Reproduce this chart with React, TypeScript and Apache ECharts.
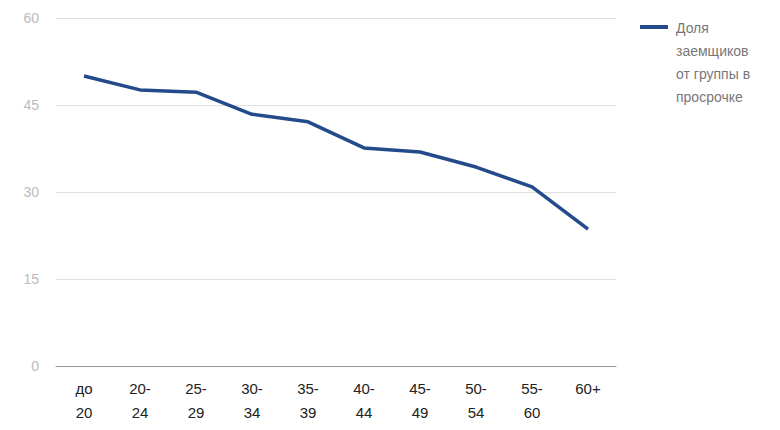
import React, { useEffect, useRef } from "react";
import * as echarts from "echarts";

const categories = ["до\n20", "20-\n24", "25-\n29", "30-\n34", "35-\n39", "40-\n44", "45-\n49", "50-\n54", "55-\n60", "60+"];
const shareValues = [50.0, 47.6, 47.2, 43.4, 42.1, 37.6, 36.9, 34.3, 30.9, 23.6];
const yTicks = { min: 0, max: 60, interval: 15 };
const legendLines = ["Доля", "заемщиков", "от группы в", "просрочке"];

const LINE_COLOR = "#234a8a";

export default function App() {
  const ref = useRef<HTMLDivElement>(null);
  useEffect(() => {
    document.body.style.margin = "0";
    const chart = echarts.init(ref.current!, null, { renderer: "svg" });
    chart.setOption({
      animation: false,
      textStyle: { fontFamily: "Liberation Sans, Arial, sans-serif" },
      grid: { left: 56, top: 18, width: 560, bottom: 64 },
      legend: { show: false },
      graphic: [
        {
          type: "line",
          shape: { x1: 640, y1: 27, x2: 668, y2: 27 },
          style: { stroke: LINE_COLOR, lineWidth: 4 },
        },
        {
          type: "text",
          x: 676,
          y: 16,
          style: {
            text: legendLines.join("\n"),
            fill: "#777",
            fontSize: 14,
            lineHeight: 23,
            fontFamily: "Liberation Sans, Arial, sans-serif",
            verticalAlign: "top",
          },
        },
      ],
      xAxis: {
        type: "category",
        data: categories,
        boundaryGap: true,
        axisLine: { lineStyle: { color: "#999", width: 1 } },
        axisTick: { show: false },
        axisLabel: { color: "#222", fontSize: 15, lineHeight: 24, margin: 10, interval: 0 },
      },
      yAxis: {
        type: "value",
        min: yTicks.min,
        max: yTicks.max,
        interval: yTicks.interval,
        axisLine: { show: false },
        axisTick: { show: false },
        axisLabel: { color: "#bbb", fontSize: 14, margin: 17 },
        splitLine: { lineStyle: { color: "#e0e0e0", width: 1 } },
      },
      series: [
        {
          name: "Доля заемщиков от группы в просрочке",
          type: "line",
          data: shareValues,
          symbol: "none",
          lineStyle: { color: LINE_COLOR, width: 3.5 },
          itemStyle: { color: LINE_COLOR },
        },
      ],
    });
    return () => chart.dispose();
  }, []);
  return <div ref={ref} style={{ width: 780, height: 430 }} />;
}
